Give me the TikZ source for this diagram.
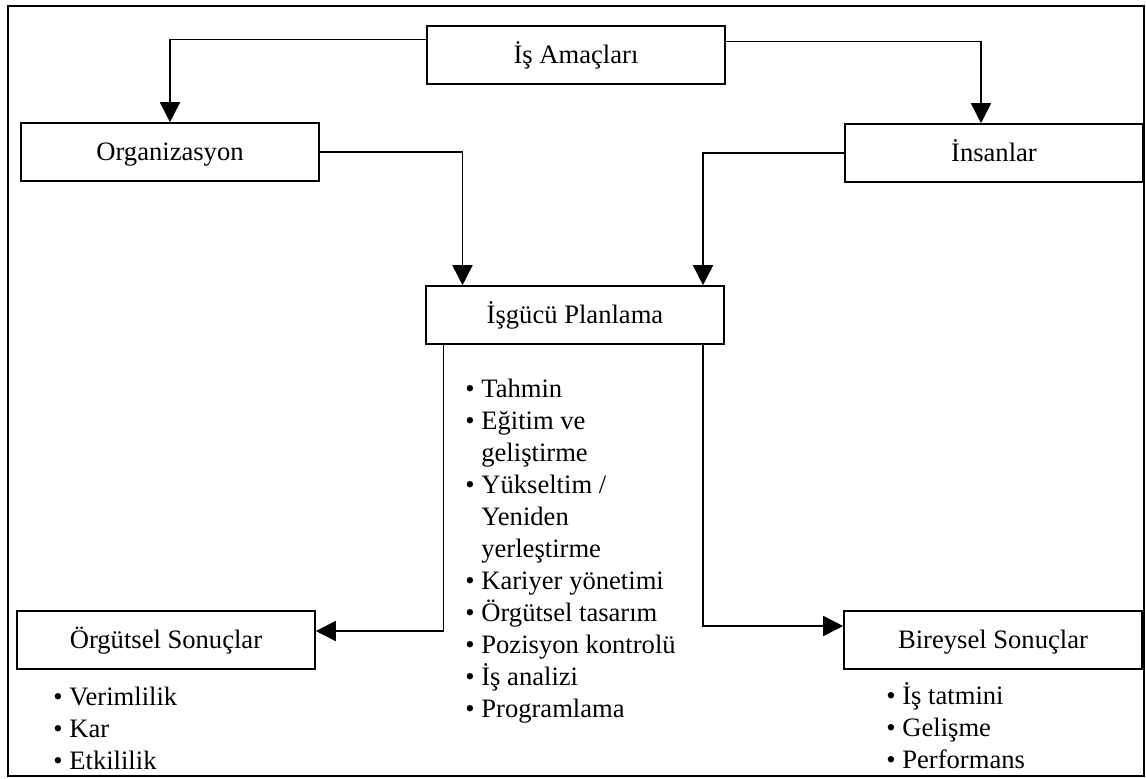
\documentclass[tikz,border=0pt]{standalone}
\usepackage{fontspec}
\setmainfont{Liberation Serif}
\usetikzlibrary{arrows.meta}
\newcommand{\bul}{\textbullet\ }
\newcommand{\bulgap}{\hphantom{\textbullet\ }}

\begin{document}
\begin{tikzpicture}[x=0.5pt, y=-0.5pt,
  font=\fontsize{13.3pt}{16pt}\selectfont,
  box/.style={draw, line width=0.8pt, minimum width=149pt,
              minimum height=29pt, inner sep=0pt,
              text height=11pt, text depth=2.5pt},
  link/.style={-{Triangle[length=10pt,width=10pt]}, line width=0.8pt},
  items/.style={anchor=north west, align=left, inner sep=0pt}
]
\useasboundingbox (0,0) rectangle (1146,778);
\draw[line width=0.8pt] (8,6) rectangle (1144,776);

% boxes
\node[box] (amac) at (576,55) {İş Amaçları};
\node[box] (org) at (170,152) {Organizasyon};
\node[box] (insan) at (994,153) {İnsanlar};
\node[box] (plan) at (575,315) {İşgücü Planlama};
\node[box] (orgsonuc) at (166,640) {Örgütsel Sonuçlar};
\node[box] (birsonuc) at (993,640) {Bireysel Sonuçlar};

% lists
\node[items] (planlist) at (465,379)
  {\bul Tahmin\\
   \bul Eğitim ve\\
   \bulgap geliştirme\\
   \bul Yükseltim /\\
   \bulgap Yeniden\\
   \bulgap yerleştirme\\
   \bul Kariyer yönetimi\\
   \bul Örgütsel tasarım\\
   \bul Pozisyon kontrolü\\
   \bul İş analizi\\
   \bul Programlama};
\node[items] (orglist) at (53,687)
  {\bul Verimlilik\\
   \bul Kar\\
   \bul Etkililik};
\node[items] (birlist) at (886,682)
  {\bul İş tatmini\\
   \bul Gelişme\\
   \bul Performans};

% connectors
\draw[link] ([yshift=7.75pt]amac.west) -| (org);
\draw[link] ([yshift=6.75pt]amac.east) -| ([xshift=-6.5pt]insan.north);
\draw[link] (org.east) -| ([xshift=-56.25pt]plan.north);
\draw[link] (insan.west) -| ([xshift=64pt]plan.north);
\draw[link] ([xshift=-65.75pt]plan.south) |- ([yshift=4.5pt]orgsonuc.east);
\draw[link] ([xshift=64pt]plan.south) |- ([yshift=7pt]birsonuc.west);
\end{tikzpicture}
\end{document}
